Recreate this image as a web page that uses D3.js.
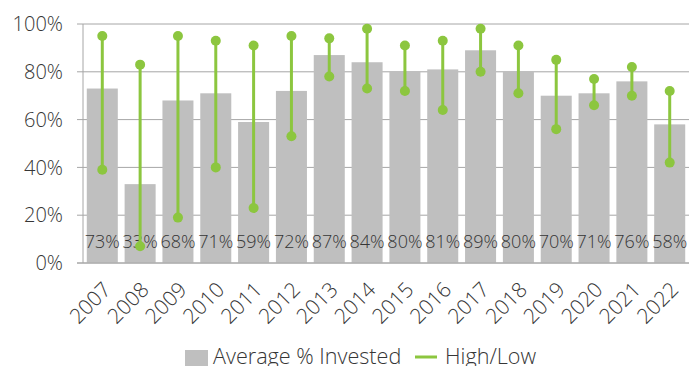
<!DOCTYPE html>
<html>
<head>
<meta charset="utf-8">
<script src="https://cdn.jsdelivr.net/npm/d3@7"></script>
<style>
  body { margin: 0; background: #fff; }
  svg { display: block; font-family: "Open Sans", sans-serif; font-weight: 300; }
</style>
</head>
<body>
<svg width="689" height="366"></svg>
<script>
const years = ["2007","2008","2009","2010","2011","2012","2013","2014","2015","2016","2017","2018","2019","2020","2021","2022"];
const avgInvested = [73,33,68,71,59,72,87,84,80,81,89,80,70,71,76,58];
const highs = [95,83,95,93,91,95,94,98,91,93,98,91,85,77,82,72];
const lows = [39,7,19,40,23,53,78,73,72,64,80,71,56,66,70,42];
const yTicks = [0,20,40,60,80,100];

const green = "#8cc63f";
const barGray = "#bfbfbf";
const textColor = "#363636";
const gridColor = "#a6a6a6";

const svg = d3.select("svg");
const W = 689, H = 366;
const margin = {left: 83, right: 0, top: 24, bottom: 103};

const x = d3.scaleBand()
    .domain(years)
    .range([margin.left, W - margin.right])
    .paddingInner(0.18)
    .paddingOuter(0.1);
const y = d3.scaleLinear()
    .domain([0, 100])
    .range([H - margin.bottom, margin.top]);
const cx = d => x(d) + x.bandwidth() / 2;

// gridlines
svg.append("g")
    .selectAll("line")
    .data(yTicks)
    .join("line")
    .attr("x1", margin.left - 6)
    .attr("x2", W)
    .attr("y1", d => y(d))
    .attr("y2", d => y(d))
    .attr("stroke", gridColor);

svg.append("line")
    .attr("x1", margin.left).attr("x2", margin.left)
    .attr("y1", y(100)).attr("y2", y(0))
    .attr("stroke", gridColor);

svg.append("g")
    .selectAll("text")
    .data(yTicks)
    .join("text")
    .attr("x", 63)
    .attr("y", d => y(d))
    .attr("dy", "0.36em")
    .attr("text-anchor", "end")
    .attr("fill", textColor)
    .style("font-size", "20px")
    .text(d => d + "%");

// bars
svg.append("g")
    .selectAll("rect")
    .data(years)
    .join("rect")
    .attr("x", d => x(d))
    .attr("width", x.bandwidth())
    .attr("y", (d, i) => y(avgInvested[i]))
    .attr("height", (d, i) => y(0) - y(avgInvested[i]))
    .attr("fill", barGray);

svg.append("line")
    .attr("x1", margin.left - 6).attr("x2", W)
    .attr("y1", y(0)).attr("y2", y(0))
    .attr("stroke", gridColor);

// value labels
svg.append("g")
    .selectAll("text")
    .data(years)
    .join("text")
    .attr("x", cx)
    .attr("y", 247.5)
    .attr("text-anchor", "middle")
    .attr("fill", textColor)
    .style("font-size", "18px")
    .text((d, i) => avgInvested[i] + "%");

// high/low
const hl = svg.append("g");
hl.selectAll("line")
    .data(years)
    .join("line")
    .attr("x1", cx)
    .attr("x2", cx)
    .attr("y1", (d, i) => y(highs[i]))
    .attr("y2", (d, i) => y(lows[i]))
    .attr("stroke", green)
    .attr("stroke-width", 3);
hl.selectAll("circle.hi")
    .data(years)
    .join("circle")
    .attr("class", "hi")
    .attr("cx", cx)
    .attr("cy", (d, i) => y(highs[i]))
    .attr("r", 5)
    .attr("fill", green);
hl.selectAll("circle.lo")
    .data(years)
    .join("circle")
    .attr("class", "lo")
    .attr("cx", cx)
    .attr("cy", (d, i) => y(lows[i]))
    .attr("r", 5)
    .attr("fill", green);

// x labels
svg.append("g")
    .selectAll("text")
    .data(years)
    .join("text")
    .attr("transform", d => "translate(" + (cx(d) + 10) + ",291) rotate(-45)")
    .attr("text-anchor", "end")
    .attr("fill", textColor)
    .style("font-size", "21px")
    .text(d => d);

// legend
const lg = svg.append("g");
lg.append("rect")
    .attr("x", 185).attr("y", 350)
    .attr("width", 23).attr("height", 16)
    .attr("fill", barGray);
lg.append("text")
    .attr("x", 213).attr("y", 364)
    .attr("fill", textColor)
    .style("font-size", "21.6px")
    .text("Average % Invested");
lg.append("line")
    .attr("x1", 415).attr("x2", 437)
    .attr("y1", 357).attr("y2", 357)
    .attr("stroke", green)
    .attr("stroke-width", 3);
lg.append("text")
    .attr("x", 445).attr("y", 364)
    .attr("fill", textColor)
    .style("font-size", "21.6px")
    .text("High/Low");
</script>
</body>
</html>
